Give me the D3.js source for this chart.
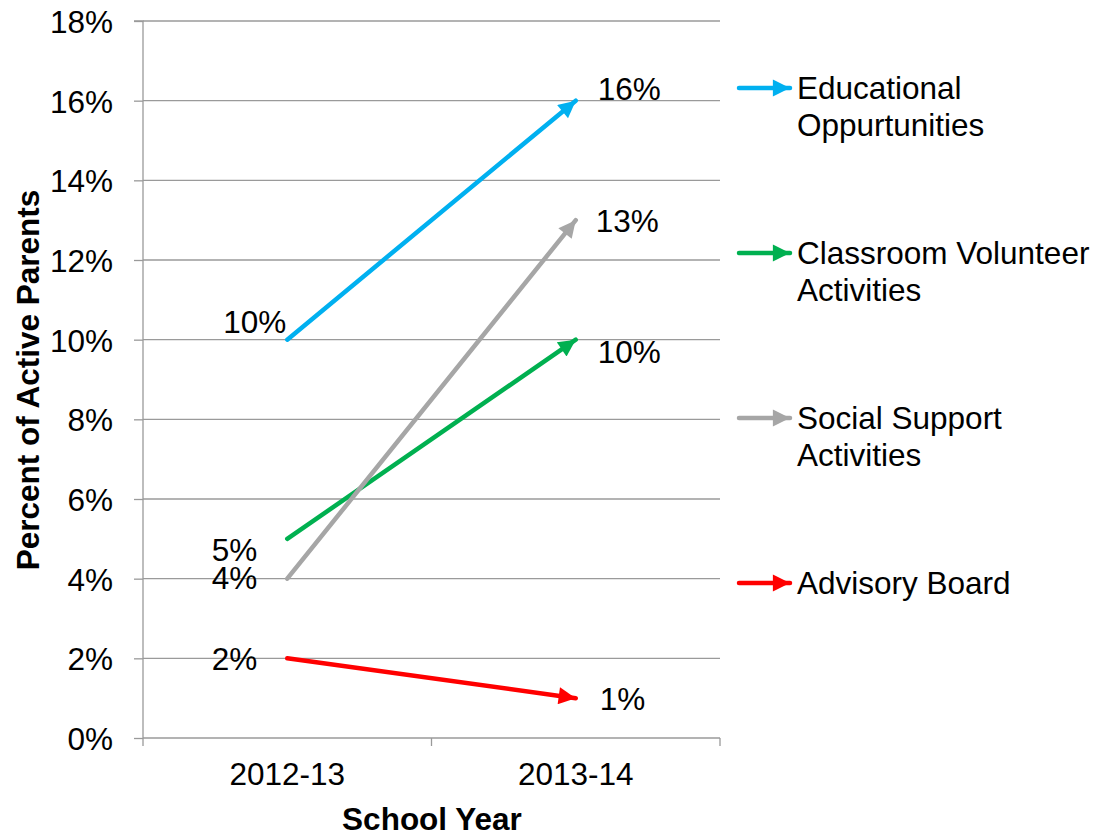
<!DOCTYPE html>
<html>
<head>
<meta charset="utf-8">
<script src="https://cdn.jsdelivr.net/npm/d3@7"></script>
<style>
  html, body { margin: 0; padding: 0; background: #fff; }
  svg text { font-family: "Liberation Sans", Arial, sans-serif; fill: #000; }
</style>
</head>
<body>
<svg id="chart" width="1100" height="836"></svg>
<script>
// School years on the x axis
const years = ["2012-13", "2013-14"];

// Share of active parents per activity type (percent)
const seriesNames = [
  ["Educational", "Oppurtunities"],
  ["Classroom Volunteer", "Activities"],
  ["Social Support", "Activities"],
  ["Advisory Board"]
];
const educational = [10, 16];
const classroom = [5, 10];
const social = [4, 13];
const advisory = [2, 1];
const seriesColors = ["#00B0F0", "#00B050", "#A6A6A6", "#FF0000"];

// Y axis ticks (percent)
const yTicks = [0, 2, 4, 6, 8, 10, 12, 14, 16, 18];

// Nudges for the value labels: [dx, dy] for first and last points
const labelNudge = [
  [[-1, -18], [22, -12]],
  [[-30, 11], [22, 12]],
  [[-30, -1], [20, 0]],
  [[-30, 0], [24, 0]]
];
const legendY = [88, 253, 418, 583];

const seriesValues = [educational, classroom, social, advisory];

const FONT = 31.5;
const svg = d3.select("#chart");
const plotLeft = 143, plotRight = 720, plotTop = 21, plotBottom = 738;

const x = d3.scaleBand().domain(years).range([plotLeft, plotRight]);
const y = d3.scaleLinear().domain([0, 18]).range([plotBottom, plotTop]);

// Gridlines
svg.append("g")
  .selectAll("line")
  .data(yTicks.filter(d => d > 0))
  .join("line")
  .attr("x1", plotLeft).attr("x2", plotRight)
  .attr("y1", d => y(d)).attr("y2", d => y(d))
  .attr("stroke", "#9a9a9a").attr("stroke-width", 1.3);

// Y axis
const yAxis = svg.append("g")
  .attr("transform", `translate(${plotLeft},0)`)
  .call(d3.axisLeft(y).tickValues(yTicks).tickFormat(d => d + "%").tickSize(9).tickPadding(21));
yAxis.selectAll("path, line").attr("stroke", "#9a9a9a").attr("stroke-width", 1.3);
yAxis.select(".domain").attr("d", `M-9,${plotTop}H0V${plotBottom}`);
yAxis.selectAll("text").attr("font-size", FONT).attr("dy", "0.36em")
  .style("font-family", '"Liberation Sans", Arial, sans-serif').attr("fill", "#000");

// X axis with ticks at band boundaries
const xAxisG = svg.append("g").attr("transform", `translate(0,${plotBottom})`);
xAxisG.append("line").attr("x1", plotLeft).attr("x2", plotRight).attr("y1", 0).attr("y2", 0)
  .attr("stroke", "#9a9a9a").attr("stroke-width", 1.3);
const bounds = [plotLeft].concat(years.map(d => x(d) + x.bandwidth()));
xAxisG.selectAll("line.tick").data(bounds).join("line").attr("class", "tick")
  .attr("x1", d => d).attr("x2", d => d).attr("y1", 0).attr("y2", 8)
  .attr("stroke", "#9a9a9a").attr("stroke-width", 1.3);
xAxisG.selectAll("text").data(years).join("text")
  .attr("x", d => x(d) + x.bandwidth() / 2)
  .attr("y", 47)
  .attr("text-anchor", "middle")
  .attr("font-size", FONT)
  .text(d => d);

// Axis titles
svg.append("text").attr("x", 432).attr("y", 830).attr("text-anchor", "middle")
  .attr("font-size", 31.5).attr("font-weight", "bold").text("School Year");
svg.append("text")
  .attr("transform", `translate(39,380) rotate(-90)`)
  .attr("text-anchor", "middle").attr("font-size", 31.5).attr("font-weight", "bold")
  .text("Percent of Active Parents");

// Arrow markers per series
const defs = svg.append("defs");
seriesColors.forEach((c, i) => {
  defs.append("marker")
    .attr("id", "arrow" + i)
    .attr("viewBox", "0 0 10 10")
    .attr("refX", 10).attr("refY", 5)
    .attr("markerWidth", 4.6).attr("markerHeight", 3.8)
    .attr("markerUnits", "strokeWidth")
    .attr("orient", "auto")
    .append("path")
    .attr("d", "M0,0L10,5L0,10Z")
    .attr("fill", c);
});

const cx = d => x(d) + x.bandwidth() / 2;

// Series lines with arrowheads
const line = d3.line().x((d, i) => cx(years[i])).y(d => y(d));
seriesValues.forEach((vals, i) => {
  svg.append("path")
    .datum(vals)
    .attr("d", line)
    .attr("fill", "none")
    .attr("stroke", seriesColors[i])
    .attr("stroke-width", 4.5)
    .attr("stroke-linecap", "round")
    .attr("marker-end", `url(#arrow${i})`);
});

// Value labels
seriesValues.forEach((vals, i) => {
  vals.forEach((v, j) => {
    const [dx, dy] = labelNudge[i][j];
    svg.append("text")
      .attr("x", cx(years[j]) + dx)
      .attr("y", y(v) + dy)
      .attr("dy", "0.36em")
      .attr("text-anchor", j === 0 ? "end" : "start")
      .attr("font-size", FONT)
      .text(v + "%");
  });
});

// Legend
seriesNames.forEach((lines, i) => {
  const g = svg.append("g").attr("transform", `translate(737,${legendY[i]})`);
  g.append("line").attr("x1", 2).attr("x2", 53).attr("y1", 0).attr("y2", 0)
    .attr("stroke", seriesColors[i]).attr("stroke-width", 4.5)
    .attr("stroke-linecap", "round")
    .attr("marker-end", `url(#arrow${i})`);
  const t = g.append("text").attr("x", 60).attr("y", 0).attr("font-size", FONT);
  lines.forEach((ln, k) => {
    t.append("tspan").attr("x", 60).attr("dy", k === 0 ? "0.36em" : "1.16em").text(ln);
  });
});
</script>
</body>
</html>
